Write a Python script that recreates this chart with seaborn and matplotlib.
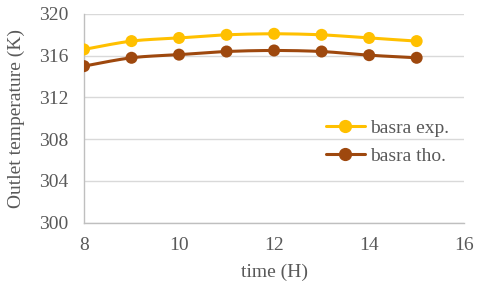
import numpy as np
import pandas as pd
import matplotlib
matplotlib.use('Agg')
import matplotlib.pyplot as plt
import seaborn as sns

# values
hours = [8, 9, 10, 11, 12, 13, 14, 15]
basra_exp = [316.6, 317.4, 317.7, 318.0, 318.1, 318.0, 317.7, 317.4]
basra_tho = [315.0, 315.8, 316.1, 316.4, 316.5, 316.4, 316.05, 315.8]

series_names = ['basra exp.', 'basra tho.']
colors = {'basra exp.': '#FFC000', 'basra tho.': '#9E480E'}
text_color = '#595959'


def smooth(x, y, n=20):
    # Catmull-Rom style smoothing like Excel's "smoothed line"
    x = np.asarray(x, float)
    y = np.asarray(y, float)
    px = np.concatenate([[x[0]], x, [x[-1]]])
    py = np.concatenate([[y[0]], y, [y[-1]]])
    xs, ys = [], []
    t = np.linspace(0, 1, n, endpoint=False)
    for i in range(1, len(px) - 2):
        p0, p1, p2, p3 = [np.array([px[j], py[j]]) for j in (i - 1, i, i + 1, i + 2)]
        c1 = p1 + (p2 - p0) / 6
        c2 = p2 - (p3 - p1) / 6
        pts = ((1 - t) ** 3)[:, None] * p1 + (3 * (1 - t) ** 2 * t)[:, None] * c1 \
            + (3 * (1 - t) * t ** 2)[:, None] * c2 + (t ** 3)[:, None] * p2
        xs.extend(pts[:, 0])
        ys.extend(pts[:, 1])
    xs.append(x[-1])
    ys.append(y[-1])
    return np.array(xs), np.array(ys)


df = pd.DataFrame({'time': hours * 2,
                   'temp': basra_exp + basra_tho,
                   'series': [series_names[0]] * len(hours) + [series_names[1]] * len(hours)})

sns.set_style('white')
plt.rcParams['font.family'] = ['Liberation Serif', 'DejaVu Serif']

fig = plt.figure(figsize=(4.8, 2.91), dpi=100)
ax = fig.add_axes([0.175, 0.235, 0.792, 0.717])

for name in series_names:
    sub = df[df['series'] == name]
    sx, sy = smooth(sub['time'], sub['temp'])
    ax.plot(sx, sy, color=colors[name], lw=2.2, zorder=3)

sns.scatterplot(data=df, x='time', y='temp', hue='series', palette=colors,
                s=75, edgecolor='none', legend=False, ax=ax, zorder=4)

ax.set_xlim(8, 16)
ax.set_ylim(300, 320)
ax.set_xticks([8, 10, 12, 14, 16])
ax.set_yticks([300, 304, 308, 312, 316, 320])
ax.yaxis.grid(True, color='#D9D9D9', lw=1)
ax.xaxis.grid(False)
for s in ['top', 'right']:
    ax.spines[s].set_visible(False)
for s in ['left', 'bottom']:
    ax.spines[s].set_color('#BFBFBF')
    ax.spines[s].set_linewidth(1)
ax.tick_params(axis='y', length=0, labelsize=14, colors=text_color, pad=11)
ax.tick_params(axis='x', length=0, labelsize=14, colors=text_color, pad=10)
ax.set_xlabel('time (H)', fontsize=14, color=text_color, labelpad=7)
ax.set_ylabel('Outlet temperature (K)', fontsize=14, color=text_color, labelpad=10)

handles = [plt.Line2D([], [], color=colors[n], lw=2.2, marker='o', markersize=8.5) for n in series_names]
leg = ax.legend(handles, series_names, loc='upper left', bbox_to_anchor=(0.59, 0.58),
                frameon=False, fontsize=14, handlelength=2.0, handletextpad=0.3,
                labelspacing=0.55, labelcolor=text_color)

fig.savefig('out.png', dpi=100)
